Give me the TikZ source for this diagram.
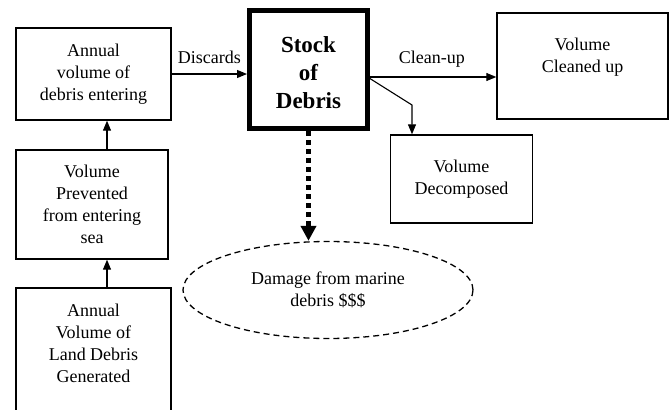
\documentclass[tikz,border=0pt]{standalone}
\usepackage{fontspec}
\setmainfont{Liberation Serif}
\usepackage{tikz}
\usetikzlibrary{arrows.meta,shapes.geometric}
\tikzset{
    box/.style={rectangle, draw=black, line width=1.4pt, align=center},
    stock/.style={rectangle, draw=black, line width=5pt, align=center,
        font=\bfseries\fontsize{23pt}{28pt}\selectfont},
    impact/.style={ellipse, draw=black, line width=1.3pt, dash pattern=on 6pt off 4pt, align=center},
    flow/.style={line width=1.1pt, -{Triangle[length=10pt,width=8pt]}}
}
\begin{document}
\begin{tikzpicture}
  [
    x                       = 1pt,
    y                       = -1pt,
    every node/.style       = {font=\fontsize{18pt}{22pt}\selectfont},
  ]
  \useasboundingbox (0,0) rectangle (670,410);
  % boxes on the land side
  \node [box, minimum width=155pt, minimum height=92pt] (annual) at (93.5,74)
    {Annual\\volume of\\debris entering};
  \node [box, minimum width=152pt, minimum height=109pt] (prevented) at (92,204.5)
    {Volume\\Prevented\\from entering\\sea};
  \node [box, minimum width=155pt, minimum height=152pt, text depth=42pt] (land) at (93.5,364)
    {Annual\\Volume of\\Land Debris\\Generated};
  % stock and where it goes
  \node [stock, minimum width=118pt, minimum height=118pt, text height=79pt] (debris) at (308.5,69.5)
    {Stock\\of\\Debris};
  \node [box, minimum width=171pt, minimum height=106pt, text depth=21pt] (cleaned) at (582.5,66)
    {Volume\\Cleaned up};
  \node [box, minimum width=142pt, minimum height=88pt] (decomposed) at (461.5,179)
    {Volume\\Decomposed};
  \node [impact, minimum width=290pt, minimum height=97pt] (damage) at (328,290)
    {Damage from marine\\debris \$\$\$};
  \coordinate (split) at (367.5,77);
  \coordinate (bend) at (412,105);
  \coordinate (rise) at (107,0);

  \draw [flow] (rise |- land.north) -- (rise |- prevented.south);
  \draw [flow] (rise |- prevented.north) -- (rise |- annual.south);
  \draw [flow] (annual.east) -- (annual.east -| debris.west)
    node [midway, above=6pt] {Discards};
  \draw [flow] (split) -- (split -| cleaned.west)
    node [midway, above=6pt] {Clean-up};
  \draw [flow] (split) -- (bend) -- (bend |- decomposed.north);
  \draw [line width=5pt, dash pattern=on 5pt off 4pt,
    -{Triangle[length=15pt,width=15pt]}] (debris.south) -- (debris.south |- damage.north);
\end{tikzpicture}
\end{document}
